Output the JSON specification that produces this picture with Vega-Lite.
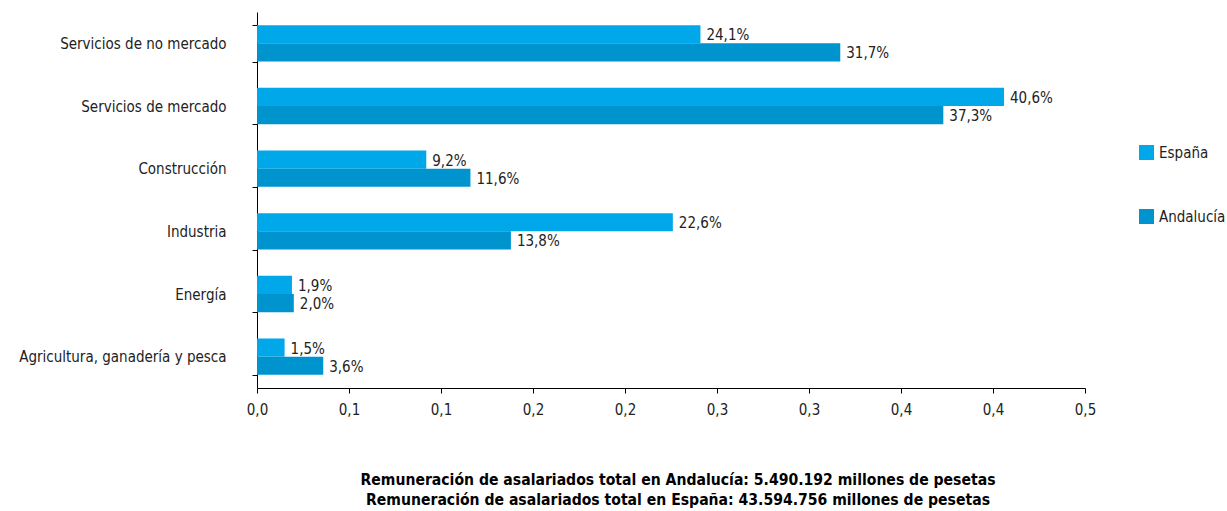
{
  "$schema": "https://vega.github.io/schema/vega-lite/v6.json",
  "autosize": {"type": "none"},
  "padding": {"left": 257, "top": 12, "right": 142, "bottom": 123},
  "width": 828,
  "height": 376,
  "background": "white",
  "data": {
    "values": [
      {"sector": "Servicios de no mercado", "serie": "España", "valor": 0.241},
      {"sector": "Servicios de no mercado", "serie": "Andalucía", "valor": 0.317},
      {"sector": "Servicios de mercado", "serie": "España", "valor": 0.406},
      {"sector": "Servicios de mercado", "serie": "Andalucía", "valor": 0.373},
      {"sector": "Construcción", "serie": "España", "valor": 0.092},
      {"sector": "Construcción", "serie": "Andalucía", "valor": 0.116},
      {"sector": "Industria", "serie": "España", "valor": 0.226},
      {"sector": "Industria", "serie": "Andalucía", "valor": 0.138},
      {"sector": "Energía", "serie": "España", "valor": 0.019},
      {"sector": "Energía", "serie": "Andalucía", "valor": 0.020},
      {"sector": "Agricultura, ganadería y pesca", "serie": "España", "valor": 0.015},
      {"sector": "Agricultura, ganadería y pesca", "serie": "Andalucía", "valor": 0.036}
    ]
  },
  "title": {
    "text": [
      "Remuneración de asalariados total en Andalucía: 5.490.192 millones de pesetas",
      "Remuneración de asalariados total en España: 43.594.756 millones de pesetas"
    ],
    "orient": "bottom",
    "anchor": "middle",
    "dx": 7,
    "font": "'DejaVu Sans Condensed', 'Liberation Sans', sans-serif",
    "fontSize": 15.6,
    "fontWeight": "bold",
    "color": "#000000",
    "lineHeight": 20,
    "offset": 56
  },
  "encoding": {
    "y": {
      "field": "sector",
      "type": "nominal",
      "sort": ["Servicios de no mercado", "Servicios de mercado", "Construcción", "Industria", "Energía", "Agricultura, ganadería y pesca"],
      "scale": {"paddingInner": 0.42, "paddingOuter": 0.21},
      "axis": {
        "title": null,
        "tickBand": "extent",
        "domainColor": "#000000",
        "tickColor": "#000000",
        "tickSize": 5,
        "labelPadding": 26,
        "labelLimit": 400,
        "labelFont": "'DejaVu Sans Condensed', 'Liberation Sans', sans-serif",
        "labelFontSize": 15,
        "labelColor": "#222222",
        "grid": false
      }
    },
    "yOffset": {"field": "serie", "type": "nominal", "sort": ["España", "Andalucía"]},
    "x": {
      "field": "valor",
      "type": "quantitative",
      "scale": {"domain": [0, 0.45], "nice": false},
      "axis": {
        "title": null,
        "values": [0, 0.05, 0.1, 0.15, 0.2, 0.25, 0.3, 0.35, 0.4, 0.45],
        "labelExpr": "replace(format(round(datum.value*10)/10, '.1f'), '.', ',')",
        "labelFlush": false,
        "domainColor": "#000000",
        "tickColor": "#000000",
        "tickSize": 5,
        "labelPadding": 9,
        "labelFont": "'DejaVu Sans Condensed', 'Liberation Sans', sans-serif",
        "labelFontSize": 15,
        "labelColor": "#222222",
        "grid": false
      }
    }
  },
  "layer": [
    {
      "mark": {"type": "bar"},
      "encoding": {
        "color": {
          "field": "serie",
          "type": "nominal",
          "scale": {"domain": ["España", "Andalucía"], "range": ["#00A8EA", "#0094CF"]},
          "legend": {
            "title": null,
            "orient": "none",
            "legendX": 882,
            "legendY": 133,
            "symbolType": "square",
            "symbolSize": 225,
            "symbolStrokeWidth": 0,
            "labelFont": "'DejaVu Sans Condensed', 'Liberation Sans', sans-serif",
            "labelFontSize": 15,
            "labelColor": "#222222",
            "labelLimit": 200,
            "labelOffset": 5,
            "rowPadding": 48
          }
        }
      }
    },
    {
      "mark": {"type": "text", "align": "left", "baseline": "middle", "dx": 6, "dy": 1, "font": "'DejaVu Sans Condensed', 'Liberation Sans', sans-serif", "fontSize": 15, "color": "#222222"},
      "encoding": {
        "text": {"field": "valor", "type": "quantitative", "format": ".1%"}
      }
    }
  ],
  "config": {
    "view": {"stroke": null},
    "locale": {
      "number": {"decimal": ",", "thousands": ".", "grouping": [3], "currency": ["", " €"]}
    }
  }
}
